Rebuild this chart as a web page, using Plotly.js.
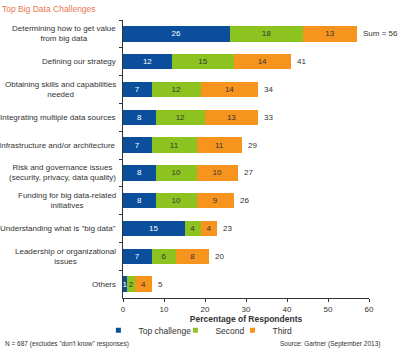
<!DOCTYPE html>
<html>
<head>
<meta charset="utf-8">
<script src="https://cdn.plot.ly/plotly-3.0.1.min.js"></script>
<style>html,body{margin:0;padding:0;background:#fff;}#chart{width:404px;height:360px;}</style>
</head>
<body>
<div id="chart"></div>
<script>
var categories = [
  "Determining how to get value<br>from big data",
  "Defining our strategy",
  "Obtaining skills and capabilities<br>needed",
  "Integrating multiple data sources",
  "Infrastructure and/or architecture",
  "Risk and governance issues<br>(security, privacy, data quality)",
  "Funding for big data-related<br>initiatives",
  "Understanding what is \"big data\"",
  "Leadership or organizational<br>issues",
  "Others"
];
var topChallenge = [26, 12, 7, 8, 7, 8, 8, 15, 7, 1];
var second = [18, 15, 12, 12, 11, 10, 10, 4, 6, 2];
var third = [13, 14, 14, 13, 11, 10, 9, 4, 8, 4];
var totalLabels = ["Sum = 56", "41", "34", "33", "29", "27", "26", "23", "20", "5"];
var seriesNames = ["Top challenge", "Second", "Third"];
var xTicks = [0, 10, 20, 30, 40, 50, 60];

var colors = ["#0b4f9c", "#8cc320", "#f7941e"];
var textColors = ["#ffffff", "#333333", "#333333"];
var series = [topChallenge, second, third];
var legendIds = ["legend", "legend2", "legend3"];

var traces = series.map(function (vals, i) {
  return {
    type: "bar",
    orientation: "h",
    x: vals,
    y: categories,
    name: seriesNames[i],
    marker: {color: colors[i]},
    text: vals.map(String),
    textposition: "inside",
    insidetextanchor: "middle",
    constraintext: "none",
    textfont: {family: "Liberation Sans, Arial, sans-serif", size: 8, color: textColors[i]},
    hoverinfo: "x+y",
    showlegend: false
  };
});

// legend entries with small square symbols
seriesNames.forEach(function (n, i) {
  traces.push({
    type: "scatter",
    mode: "markers",
    x: [null], y: [null],
    name: n,
    legend: legendIds[i],
    marker: {symbol: "square", size: 5, color: colors[i]},
    showlegend: true,
    hoverinfo: "skip"
  });
});

var annotations = [];
categories.forEach(function (c, k) {
  annotations.push({
    xref: "paper", yref: "y", x: 0, y: c,
    xanchor: "right", yanchor: "middle", xshift: -5,
    align: "center", showarrow: false,
    text: c,
    font: {family: "Liberation Sans, Arial, sans-serif", size: 8, color: "#333333"}
  });
  var s = topChallenge[k] + second[k] + third[k];
  annotations.push({
    xref: "x", yref: "y", x: s, y: c,
    xanchor: "left", yanchor: "middle", xshift: 4,
    showarrow: false,
    text: totalLabels[k],
    font: {family: "Liberation Sans, Arial, sans-serif", size: 8, color: "#333333"}
  });
});
annotations.push({
  xref: "paper", yref: "paper", x: -123/246, y: 1, yshift: 18,
  xanchor: "left", yanchor: "top", showarrow: false,
  text: "Top Big Data Challenges",
  font: {family: "Liberation Sans, Arial, sans-serif", size: 8.5, color: "#e8764e"}
});
annotations.push({
  xref: "paper", yref: "paper", x: -120/246, y: 0, yshift: -46,
  xanchor: "left", yanchor: "middle", showarrow: false,
  text: "N = 687 (excludes \"don't know\" responses)",
  font: {family: "Liberation Sans, Arial, sans-serif", size: 6.5, color: "#333333"}
});
annotations.push({
  xref: "paper", yref: "paper", x: (382-123)/246, y: 0, yshift: -46,
  xanchor: "right", yanchor: "middle", showarrow: false,
  text: "Source: Gartner (September 2013)",
  font: {family: "Liberation Sans, Arial, sans-serif", size: 6.5, color: "#333333"}
});

function legendAt(x) {
  return {
    orientation: "h", traceorder: "normal",
    x: x, xanchor: "left", y: -0.116, yanchor: "middle", yref: "paper",
    font: {size: 8.5, color: "#333333"}, itemwidth: 30, tracegroupgap: 0,
    bgcolor: "rgba(0,0,0,0)"
  };
}

var layout = {
  width: 404, height: 360,
  margin: {l: 123, r: 35, t: 20, b: 62},
  paper_bgcolor: "#ffffff", plot_bgcolor: "#ffffff",
  barmode: "stack",
  bargap: 0.45,
  font: {family: "Liberation Sans, Arial, sans-serif", size: 8, color: "#333333"},
  xaxis: {
    range: [0, 60], tickvals: xTicks, ticktext: xTicks.map(String),
    showgrid: false, zeroline: false, showline: true, linecolor: "#333333", linewidth: 1,
    ticks: "outside", ticklen: 3, tickcolor: "#333333",
    tickfont: {size: 8, color: "#333333"},
    title: {text: "<b>Percentage of Respondents</b>", font: {size: 8.5, color: "#333333"}, standoff: 3}
  },
  yaxis: {
    type: "category", autorange: "reversed",
    showticklabels: false, showgrid: false, zeroline: false,
    showline: true, linecolor: "#333333", linewidth: 1,
    ticks: "outside", ticklen: 3, tickcolor: "#333333", tickson: "boundaries"
  },
  showlegend: true,
  legend: legendAt(-0.1),
  legend2: legendAt(0.213),
  legend3: legendAt(0.445),
  annotations: annotations
};

Plotly.newPlot("chart", traces, layout, {displayModeBar: false, staticPlot: true});
</script>
</body>
</html>
